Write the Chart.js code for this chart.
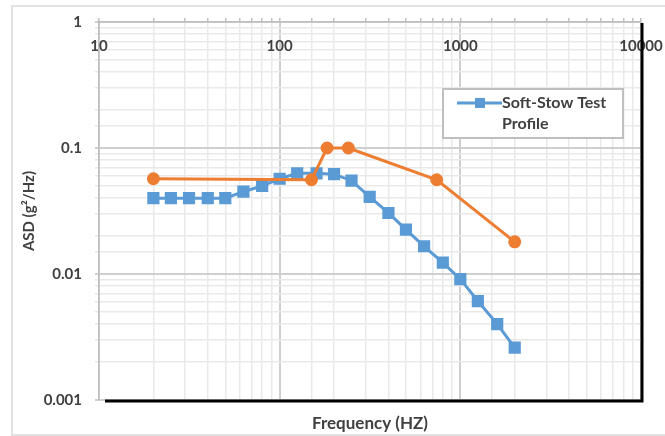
<!DOCTYPE html>
<html>
<head>
<meta charset="utf-8">
<script src="https://cdn.jsdelivr.net/npm/chart.js@4"></script>
<style>
    html, body { margin: 0; padding: 0; background: #fff; }
    #wrap { width: 665px; height: 436px; }
</style>
</head>
<body>
<div id="wrap"><canvas id="asdChart" width="665" height="436"></canvas></div>
<script>
// Soft-Stow test profile (blue) and the second, unlabelled curve (orange)
const blueFreq = [20, 25, 31.5, 40, 50, 63, 80, 100, 125, 160, 200, 250, 315, 400, 500, 630, 800, 1000, 1250, 1600, 2000];
const blueAsd = [0.04, 0.04, 0.04, 0.04, 0.04, 0.045, 0.05, 0.057, 0.063, 0.063, 0.062, 0.055, 0.041, 0.0305, 0.0225, 0.0166, 0.0123, 0.0091, 0.0061, 0.004, 0.0026];
const orangeFreq = [20, 150, 183, 240, 740, 2000];
const orangeAsd = [0.057, 0.056, 0.1, 0.1, 0.056, 0.018];
const xTickLabels = [10, 100, 1000, 10000];

const TEXT = '#404040';
const FONT = 'Lato, "Liberation Sans", sans-serif';

function isDecade(v) {
    const l = Math.log10(v);
    return Math.abs(l - Math.round(l)) < 1e-9;
}
const gridColor = ctx => (ctx.tick && isDecade(ctx.tick.value)) ? '#cfcfcf' : '#e9e9e9';
const gridWidth = ctx => (ctx.tick && isDecade(ctx.tick.value)) ? 2 : 1.5;

// Frame, top tick labels, thick right/bottom edge and legend box
const decorPlugin = {
    id: 'decor',
    beforeDraw(chart) {
        const c = chart.ctx;
        c.save();
        c.fillStyle = '#fff';
        c.fillRect(0, 0, chart.width, chart.height);
        c.strokeStyle = '#d9d9d9';
        c.lineWidth = 1.5;
        c.strokeRect(12, 6, chart.width + 20, chart.height - 7);
        c.restore();
    },
    afterDraw(chart) {
        const c = chart.ctx;
        const a = chart.chartArea;
        const xs = chart.scales.x;
        c.save();
        // labels of the frequency axis sit just under the top edge
        c.font = 'bold 15px ' + FONT;
        c.fillStyle = TEXT;
        c.textAlign = 'center';
        c.textBaseline = 'middle';
        xTickLabels.forEach(v => c.fillText(String(v), xs.getPixelForValue(v), a.top + 24));

        // heavy right and bottom edge
        c.strokeStyle = '#000';
        c.lineWidth = 3;
        c.beginPath();
        c.moveTo(a.right + 1, a.top + 1);
        c.lineTo(a.right + 1, a.bottom + 1);
        c.lineTo(a.left + 6, a.bottom + 1);
        c.stroke();

        // legend (only the blue series is listed)
        const lx = 443, ly = 89, lw = 180, lh = 49;
        c.fillStyle = '#fff';
        c.fillRect(lx, ly, lw, lh);
        c.strokeStyle = '#bfbfbf';
        c.lineWidth = 2;
        c.strokeRect(lx, ly, lw, lh);
        c.strokeStyle = '#5b9bd5';
        c.lineWidth = 3;
        c.beginPath();
        c.moveTo(457, 103);
        c.lineTo(502, 103);
        c.stroke();
        c.fillStyle = '#5b9bd5';
        c.fillRect(475, 98, 10, 10);
        c.fillStyle = TEXT;
        c.textAlign = 'left';
        c.font = 'bold 16px ' + FONT;
        c.fillText('Soft-Stow Test', 502, 103);
        c.fillText('Profile', 502, 124);
        c.restore();
    }
};

const ctx = document.getElementById('asdChart').getContext('2d');
new Chart(ctx, {
    type: 'line',
    data: {
        datasets: [{
            label: 'Soft-Stow Test Profile',
            data: blueFreq.map((f, i) => ({ x: f, y: blueAsd[i] })),
            borderColor: '#5b9bd5',
            backgroundColor: '#5b9bd5',
            borderWidth: 3,
            pointStyle: 'rect',
            pointRadius: 6.5,
            order: 1
        }, {
            label: 'Series 2',
            data: orangeFreq.map((f, i) => ({ x: f, y: orangeAsd[i] })),
            borderColor: '#ed7d31',
            backgroundColor: '#ed7d31',
            borderWidth: 3,
            pointStyle: 'circle',
            pointRadius: 5,
            order: 0
        }]
    },
    options: {
        responsive: false,
        animation: false,
        layout: { padding: { left: 0, right: 24, top: 0, bottom: 0 } },
        plugins: {
            legend: { display: false },
            tooltip: { enabled: false }
        },
        scales: {
            x: {
                type: 'logarithmic',
                position: 'bottom',
                min: 10,
                max: 10000,
                afterFit: s => { s.height = 36; },
                ticks: { display: false },
                grid: { color: gridColor, lineWidth: gridWidth, drawTicks: false },
                border: { display: false },
                title: {
                    display: true,
                    text: 'Frequency (HZ)',
                    color: TEXT,
                    font: { family: FONT, size: 17, weight: 'bold' },
                    padding: { top: 2, bottom: 2 }
                }
            },
            xTop: {
                type: 'logarithmic',
                position: 'top',
                min: 10,
                max: 10000,
                afterFit: s => { s.height = 22; },
                ticks: { display: false },
                grid: { drawOnChartArea: false, drawTicks: true, tickLength: 4, color: '#bfbfbf', lineWidth: 1.5 },
                border: { display: true, color: '#bfbfbf', width: 1.5 }
            },
            y: {
                type: 'logarithmic',
                min: 0.001,
                max: 1,
                afterFit: s => { s.width = 99; },
                ticks: {
                    autoSkip: false,
                    padding: 13,
                    color: TEXT,
                    font: { family: FONT, size: 15, weight: 'bold' },
                    callback: v => isDecade(v) ? String(Number(v.toPrecision(3))) : ''
                },
                grid: { color: gridColor, lineWidth: gridWidth, tickLength: 4 },
                border: { display: true, color: '#bfbfbf', width: 1.5 },
                title: {
                    display: true,
                    text: 'ASD (g²/Hz)',
                    color: TEXT,
                    font: { family: FONT, size: 15, weight: 'bold' },
                    padding: { top: 20, bottom: 0 }
                }
            }
        }
    },
    plugins: [decorPlugin]
});
</script>
</body>
</html>
